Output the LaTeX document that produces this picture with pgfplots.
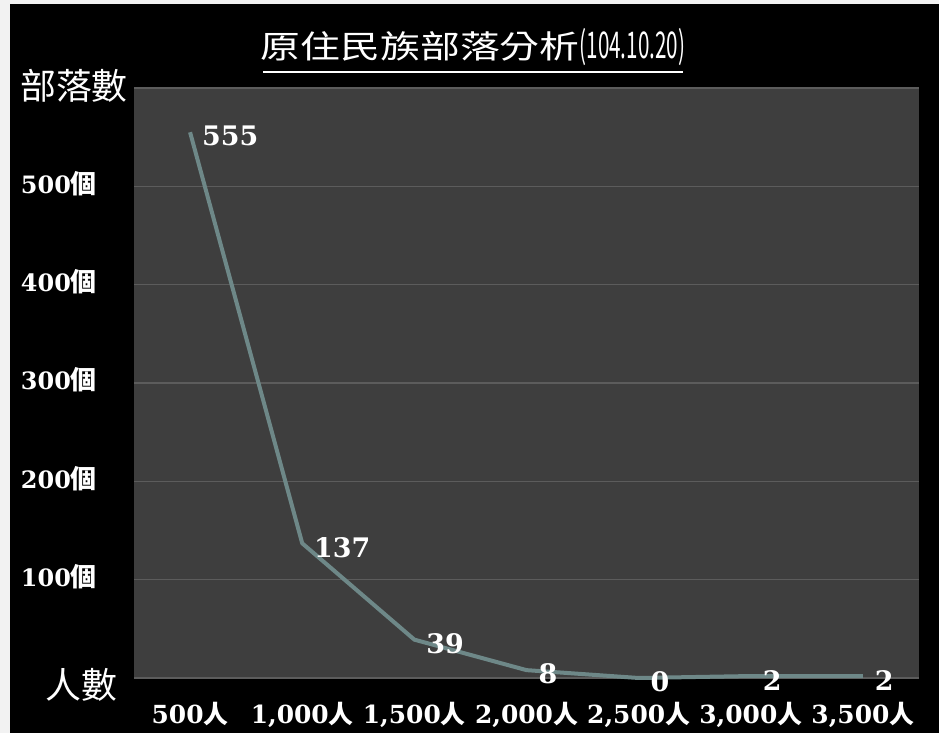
\documentclass[border=0pt]{standalone}
\usepackage{graphicx}
\usepackage{fontspec}
\usepackage{pgfplots}
\pgfplotsset{compat=1.18}
\setmainfont{DejaVu Serif}
\newfontfamily\numfont{DejaVu Serif}
\newfontfamily\cjk{Noto Sans CJK TC}
\definecolor{pagebg}{HTML}{000000}
\definecolor{frame}{HTML}{F2F2F2}
\definecolor{plotbg}{HTML}{3E3E3E}
\definecolor{gridgray}{HTML}{5C5C5C}
\definecolor{linecol}{HTML}{6E8888}
% tick label helpers: bold serif number + CJK unit
\newcommand\yl[1]{{\numfont\bfseries #1}{\cjk\bfseries\fontsize{26}{26}\selectfont 個}}
\newcommand\xl[1]{{\numfont\bfseries #1}{\cjk\bfseries 人}}
\begin{document}
\begin{tikzpicture}
  % page background
  \fill[frame] (0,0) rectangle (939bp,733bp);
  \fill[pagebg] (10bp,0) rectangle (939bp,729bp);
  \begin{axis}[
    at={(134bp,55bp)}, anchor=south west,
    width=785bp, height=590bp, scale only axis,
    xmin=-0.5, xmax=6.5,
    ymin=0, ymax=600,
    axis background/.style={fill=plotbg},
    axis line style={draw=none},
    tick style={draw=none},
    ymajorgrids=true,
    major grid style={color=gridgray, line width=1.5bp},
    xtick={0,1,2,3,4,5,6},
    xticklabels={{\xl{500}},{\xl{1,000}},{\xl{1,500}},{\xl{2,000}},{\xl{2,500}},{\xl{3,000}},{\xl{3,500}}},
    xticklabel style={text=white, anchor=base, yshift=-45bp,
      font=\fontsize{25}{25}\selectfont},
    ytick={0,100,200,300,400,500,600},
    yticklabels={{},{\yl{100}},{\yl{200}},{\yl{300}},{\yl{400}},{\yl{500}},{}},
    yticklabel style={text=white, anchor=base east, inner sep=0pt,
      xshift=-37bp, yshift=-7bp, font=\fontsize{24}{24}\selectfont},
    /pgf/number format/assume math mode=true,
    nodes near coords,
    every node near coord/.append style={anchor=west, inner sep=0pt,
      xshift=10bp, yshift=-4bp, text=white,
      font=\numfont\bfseries\fontsize{27}{27}\selectfont},
    clip=false,
  ]
    \addplot[color=linecol, line width=4bp, line join=round, mark=none] coordinates {
      (0, 555) (1, 137) (2, 39) (3, 8) (4, 0) (5, 2) (6, 2)
    };
  \end{axis}
  % title with underline
  \node[text=white, inner sep=0pt, anchor=center] at (473bp,686bp)
    {{\cjk\fontsize{32}{32}\selectfont\scalebox{1.25}[1]{原住民族部落分析}}{\cjk\fontsize{37}{37}\selectfont\scalebox{0.56}[1]{(104.10.20)}}};
  \draw[white, line width=1.6bp] (263bp,661bp) -- (683bp,661bp);
  % axis captions
  \node[text=white, inner sep=0pt, anchor=west, font=\cjk\fontsize{36}{36}\selectfont] at (20bp,647bp) {部落數};
  \node[text=white, inner sep=0pt, anchor=west, font=\cjk\fontsize{36}{36}\selectfont] at (45bp,48bp) {人數};
  \pgfresetboundingbox
  \useasboundingbox (0,0) rectangle (939bp,733bp);
\end{tikzpicture}
\end{document}
